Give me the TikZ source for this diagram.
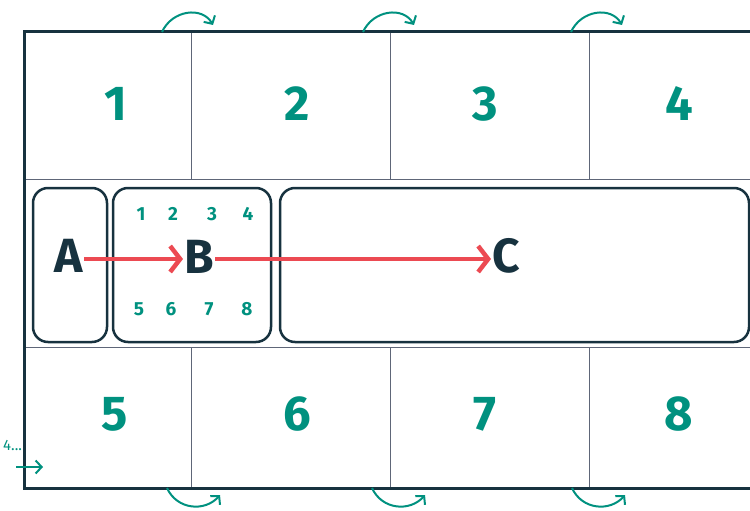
\documentclass[tikz,border=0pt]{standalone}
\usepackage{fontspec}
\setmainfont{Fira Sans}
\usetikzlibrary{arrows.meta}
\definecolor{navy}{HTML}{17323F}
\definecolor{teal2}{HTML}{00917F}
\definecolor{redA}{HTML}{EC4A52}
\definecolor{gridc}{HTML}{5E6678}
\tikzset{
  big/.style={text=teal2, font=\fontsize{49}{49}\selectfont\bfseries, inner sep=0pt},
  small/.style={text=teal2, font=\fontsize{19}{19}\selectfont\bfseries, inner sep=0pt},
  letter/.style={text=navy, font=\fontsize{48}{48}\selectfont\bfseries, inner sep=1pt},
  boxr/.style={draw=navy, line width=2.5pt, rounded corners=15pt, inner sep=0pt},
  gridl/.style={draw=gridc, line width=1pt},
  frame/.style={draw=navy, line width=3pt},
  flow/.style={draw=redA, line width=4.5pt, -{Straight Barb[length=10pt,width=26pt,line width=4.5pt]}},
  turn/.style={draw=teal2, line width=2pt, -{Straight Barb[length=6pt,width=13pt,line width=2pt]}}
}
\begin{document}
\begin{tikzpicture}[x=1pt,y=-1pt]
\useasboundingbox (0,0) rectangle (750,511);
% grid
\draw[gridl] (24,179) -- (750,179);
\draw[gridl] (24,347) -- (750,347);
\foreach \xx in {191,390,589}{
  \draw[gridl] (\xx,32) -- (\xx,179);
  \draw[gridl] (\xx,347) -- (\xx,488);
}
% frame
\draw[frame] (751,32) -- (24,32) -- (24,488) -- (751,488);
% big numbers
\node[big] (n1) at (116,104) {1};
\node[big] (n2) at (297,104) {2};
\node[big] (n3) at (485,104) {3};
\node[big] (n4) at (679,104) {4};
\node[big] (n5) at (115,414) {5};
\node[big] (n6) at (297,414) {6};
\node[big] (n7) at (485,414) {7};
\node[big] (n8) at (679,414) {8};
% boxes
\node[boxr, minimum width=74pt, minimum height=154pt] (boxA) at (70,265) {};
\node[boxr, minimum width=158pt, minimum height=154pt] (boxB) at (192,265) {};
\node[boxr, minimum width=469pt, minimum height=154pt] (boxC) at (514.5,265) {};
% small numbers
\node[small] (s1) at (141,214) {1};
\node[small] (s2) at (173,214) {2};
\node[small] (s3) at (212,214) {3};
\node[small] (s4) at (248,214) {4};
\node[small] (s5) at (139,309) {5};
\node[small] (s6) at (171,309) {6};
\node[small] (s7) at (209,309) {7};
\node[small] (s8) at (247,309) {8};
% letters
\node[letter] (A) at (69,256) {A};
\node[letter] (B) at (199,257) {B};
\node[letter] (C) at (506,256) {C};
\draw[flow] (A.east |- 0,259) -- (B.west |- 0,259);
\draw[flow] (B.east |- 0,259) -- (C.west |- 0,259);
% top turn arrows
\foreach \xx [count=\i] in {162,363,571}{
  \coordinate (ts\i) at (\xx,32);
  \coordinate (te\i) at (\xx+51,25);
  \draw[turn] (ts\i) .. controls (\xx+10,10) and (\xx+40,6) .. (te\i);
}
% bottom turn arrows
\foreach \xx [count=\i] in {167,372,572}{
  \coordinate (bs\i) at (\xx,488);
  \coordinate (be\i) at (\xx+53,495);
  \draw[turn] (bs\i) .. controls (\xx+10,510) and (\xx+38,512) .. (be\i);
}
% side label
\node[text=teal2, font=\fontsize{15}{15}\selectfont, inner sep=0pt, anchor=west] (lbl) at (3,445) {4...};
\coordinate (sa) at (16,467);
\coordinate (sb) at (43,467);
\draw[turn] (sa) -- (sb);
\end{tikzpicture}
\end{document}
